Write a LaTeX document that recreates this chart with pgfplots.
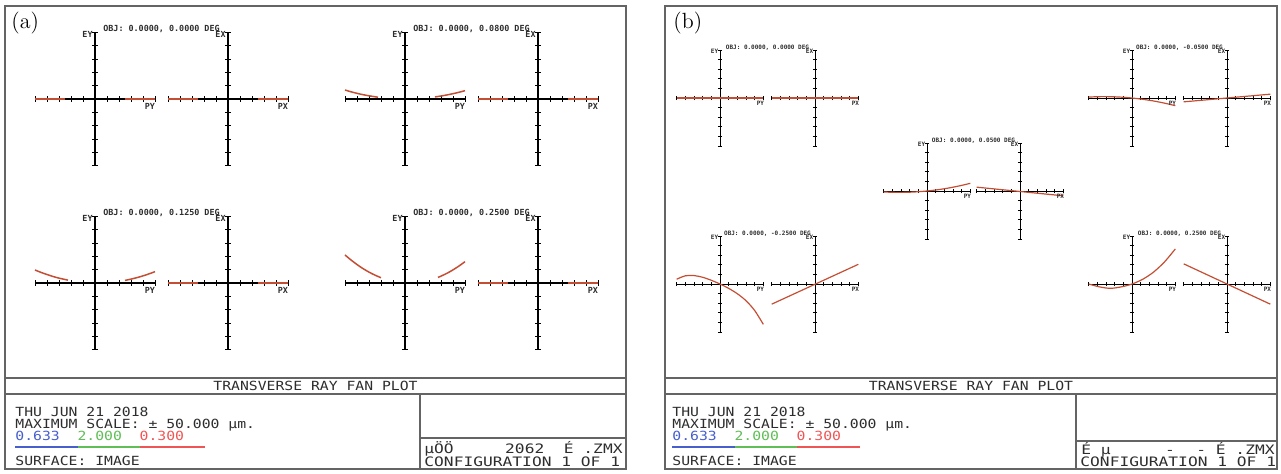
\documentclass[border=0pt]{standalone}
\usepackage{fontspec}
\usepackage{pgfplots}
\pgfplotsset{compat=1.18}
\newfontfamily\zm{DejaVu Sans Mono}
\newfontfamily\zmw{DejaVu Sans Mono}[FakeStretch=1.17]
\newfontfamily\zmr{DejaVu Sans Mono}[FakeStretch=1.25]
\definecolor{ray}{RGB}{196,78,52}
\definecolor{fr}{RGB}{100,100,100}
\definecolor{zblue}{RGB}{70,95,205}
\definecolor{zgreen}{RGB}{95,190,85}
\definecolor{zred}{RGB}{240,85,85}
\definecolor{ztxt}{RGB}{45,45,45}

\pgfplotsset{
  fanbase/.style={scale only axis, axis lines=center,
    xmin=-1,xmax=1,ymin=-1,ymax=1,
    xtick={-1,-0.8,-0.6,-0.4,-0.2,0,0.2,0.4,0.6,0.8,1},
    ytick={-1,-0.8,-0.6,-0.4,-0.2,0,0.2,0.4,0.6,0.8,1},
    xticklabels={}, yticklabels={},
    tick align=center, tick style={black,line width=0.45pt},
    anchor=origin, clip=false},
  fana/.style={fanbase, width=60pt, height=66.7pt, major tick length=2.8pt,
    axis line style={-,black,line width=0.55pt}},
  fanb/.style={fanbase, width=43.3pt, height=48pt, major tick length=2.1pt,
    axis line style={-,black,line width=0.45pt}},
  rayA/.style={color=ray, line width=0.75pt, no marks, smooth},
  rayB/.style={color=ray, line width=0.6pt, no marks, smooth},
}
\tikzset{
  laba/.style={font={\zm\bfseries\fontsize{4.2pt}{5pt}\selectfont}, inner sep=0.4pt, text=ztxt},
  labb/.style={font={\zm\bfseries\fontsize{3pt}{3.6pt}\selectfont}, inner sep=0.3pt, text=ztxt},
  tx/.style={font={\zmw\fontsize{6.3pt}{7pt}\selectfont}, inner sep=0pt, text=ztxt},
  txr/.style={font={\zmr\fontsize{6.5pt}{7pt}\selectfont}, inner sep=0pt, text=ztxt},
}
\newcommand{\fanA}[4]{%
  \begin{axis}[fana, at={(#1)}]
    #4
    \node[laba, anchor=east] at (axis cs:-0.02,0.97) {#2};
    \node[laba, anchor=north east] at (axis cs:1.02,-0.05) {#3};
  \end{axis}}
\newcommand{\fanB}[4]{%
  \begin{axis}[fanb, at={(#1)}]
    #4
    \node[labb, anchor=east] at (axis cs:-0.02,0.97) {#2};
    \node[labb, anchor=north east] at (axis cs:1.04,-0.05) {#3};
  \end{axis}}

\begin{document}
\begin{tikzpicture}[x=0.5pt,y=0.5pt]
\useasboundingbox (0,0) rectangle (1281,473);
% anchor coordinates (pixels, y from bottom)
\coordinate (A1) at (95,374);  \coordinate (A2) at (228,374);
\coordinate (A3) at (405,374); \coordinate (A4) at (538,374);
\coordinate (A5) at (95,190);  \coordinate (A6) at (228,190);
\coordinate (A7) at (405,190); \coordinate (A8) at (538,190);
\coordinate (B1) at (720,375);  \coordinate (B2) at (815,375);
\coordinate (B3) at (1132,375); \coordinate (B4) at (1227,375);
\coordinate (M1) at (927,282);  \coordinate (M2) at (1020,282);
\coordinate (B5) at (720,189);  \coordinate (B6) at (815,189);
\coordinate (B7) at (1132,189); \coordinate (B8) at (1227,189);

% ---------------- panel (a) frame and text ----------------
\draw[fr, line width=0.7pt] (5,4) rectangle (626,467);
\draw[fr, line width=0.6pt] (5,95) -- (626,95) (5,79) -- (626,79) (420,79) -- (420,4) (420,35) -- (626,35);
\node[anchor=base west, inner sep=0pt, font=\fontsize{11pt}{12pt}\selectfont] at (11,445) {(a)};
\node[tx] at (315.5,87) {TRANSVERSE RAY FAN PLOT};
\node[tx, anchor=base west] at (15,57) {THU JUN 21 2018};
\node[tx, anchor=base west] at (15,45) {MAXIMUM SCALE:\ ±\ 50.000\ µm.};
\node[tx, anchor=base west] at (15,33) {\textcolor{zblue}{0.633}\ \ \textcolor{zgreen}{2.000}\ \ \textcolor{zred}{0.300}};
\draw[zblue, line width=0.8pt] (15,26) -- (78,26);
\draw[zgreen, line width=0.8pt] (78,26) -- (140,26);
\draw[zred, line width=0.8pt] (140,26) -- (205,26);
\node[tx, anchor=base west] at (15,8) {SURFACE:\ IMAGE};
\node[txr, anchor=base west] at (424,20) {µÖÖ};
\node[txr, anchor=base east] at (623,20) {2062\ \ É\ .ZMX};
\node[txr, anchor=base west] at (424,7) {CONFIGURATION\ 1\ OF\ 1};

% titles (a)
\node[laba, anchor=base] at (161.5,442) {OBJ:\ 0.0000,\ 0.0000\ DEG};
\node[laba, anchor=base] at (471.5,442) {OBJ:\ 0.0000,\ 0.0800\ DEG};
\node[laba, anchor=base] at (161.5,258) {OBJ:\ 0.0000,\ 0.1250\ DEG};
\node[laba, anchor=base] at (471.5,258) {OBJ:\ 0.0000,\ 0.2500\ DEG};

% fans (a)
\fanA{A1}{EY}{PY}{%
  \addplot[rayA] coordinates {(-1,0)(-0.5,0)};
  \addplot[rayA] coordinates {(0.5,0)(1,0)};}
\fanA{A2}{EX}{PX}{%
  \addplot[rayA] coordinates {(-1,0)(-0.5,0)};
  \addplot[rayA] coordinates {(0.5,0)(1,0)};}
\fanA{A3}{EY}{PY}{%
  \addplot[rayA] coordinates {(-1,0.135)(-0.9,0.108)(-0.8,0.085)(-0.7,0.065)(-0.6,0.048)(-0.45,0.027)};
  \addplot[rayA] coordinates {(0.5,0.031)(0.6,0.045)(0.7,0.061)(0.8,0.08)(0.9,0.101)(1,0.125)};}
\fanA{A4}{EX}{PX}{%
  \addplot[rayA] coordinates {(-1,0)(-0.5,0)};
  \addplot[rayA] coordinates {(0.5,0)(1,0)};}
\fanA{A5}{EY}{PY}{%
  \addplot[rayA] coordinates {(-1,0.195)(-0.9,0.159)(-0.8,0.127)(-0.7,0.098)(-0.6,0.073)(-0.45,0.043)};
  \addplot[rayA] coordinates {(0.5,0.039)(0.6,0.058)(0.7,0.081)(0.8,0.107)(0.9,0.137)(1,0.17)};}
\fanA{A6}{EX}{PX}{%
  \addplot[rayA] coordinates {(-1,0)(-0.5,0)};
  \addplot[rayA] coordinates {(0.5,0)(1,0)};}
\fanA{A7}{EY}{PY}{%
  \addplot[rayA] coordinates {(-1,0.42)(-0.9,0.345)(-0.8,0.277)(-0.7,0.216)(-0.6,0.163)(-0.5,0.118)(-0.4,0.079)};
  \addplot[rayA] coordinates {(0.55,0.084)(0.6,0.103)(0.7,0.146)(0.8,0.197)(0.9,0.255)(1,0.32)};}
\fanA{A8}{EX}{PX}{%
  \addplot[rayA] coordinates {(-1,0)(-0.5,0)};
  \addplot[rayA] coordinates {(0.5,0)(1,0)};}

% ---------------- panel (b) frame and text ----------------
\draw[fr, line width=0.7pt] (665,4) rectangle (1277,467);
\draw[fr, line width=0.6pt] (665,95) -- (1277,95) (665,79) -- (1277,79) (1076,79) -- (1076,4) (1076,32) -- (1277,32);
\node[anchor=base west, inner sep=0pt, font=\fontsize{11pt}{12pt}\selectfont] at (673,445) {(b)};
\node[tx] at (971,87) {TRANSVERSE RAY FAN PLOT};
\node[tx, anchor=base west] at (672,57) {THU JUN 21 2018};
\node[tx, anchor=base west] at (672,45) {MAXIMUM SCALE:\ ±\ 50.000\ µm.};
\node[tx, anchor=base west] at (672,33) {\textcolor{zblue}{0.633}\ \ \textcolor{zgreen}{2.000}\ \ \textcolor{zred}{0.300}};
\draw[zblue, line width=0.8pt] (672,26) -- (735,26);
\draw[zgreen, line width=0.8pt] (735,26) -- (797,26);
\draw[zred, line width=0.8pt] (797,26) -- (860,26);
\node[tx, anchor=base west] at (672,8) {SURFACE:\ IMAGE};
\node[txr, anchor=base west] at (1081,19) {É\ µ};
\node[txr, anchor=base] at (1170,19) {-};
\node[txr, anchor=base east] at (1275,19) {-\ É\ .ZMX};
\node[txr, anchor=base west] at (1080,7) {CONFIGURATION\ 1\ OF\ 1};

% titles (b)
\node[labb, anchor=base] at (767.5,424) {OBJ:\ 0.0000,\ 0.0000\ DEG};
\node[labb, anchor=base] at (1179.5,424) {OBJ:\ 0.0000,\ -0.0500\ DEG};
\node[labb, anchor=base] at (973.5,331) {OBJ:\ 0.0000,\ 0.0500\ DEG};
\node[labb, anchor=base] at (767.5,238) {OBJ:\ 0.0000,\ -0.2500\ DEG};
\node[labb, anchor=base] at (1179.5,238) {OBJ:\ 0.0000,\ 0.2500\ DEG};

% fans (b)
\fanB{B1}{EY}{PY}{\addplot[rayB] coordinates {(-1,0)(1,0)};}
\fanB{B2}{EX}{PX}{\addplot[rayB] coordinates {(-1,0)(1,0)};}
\fanB{B3}{EY}{PY}{%
  \addplot[rayB] coordinates {(-1,0.02)(-0.75,0.028)(-0.5,0.0275)(-0.25,0.018)(0,0)(0.25,-0.027)(0.5,-0.0625)(0.75,-0.107)(1,-0.16)};}
\fanB{B4}{EX}{PX}{\addplot[rayB] coordinates {(-1,-0.08)(1,0.08)};}
\fanB{M1}{EY}{PY}{%
  \addplot[rayB] coordinates {(-1,-0.02)(-0.75,-0.028)(-0.5,-0.0275)(-0.25,-0.018)(0,0)(0.25,0.027)(0.5,0.0625)(0.75,0.107)(1,0.16)};}
\fanB{M2}{EX}{PX}{\addplot[rayB] coordinates {(-1,0.08)(1,-0.1)};}
\fanB{B5}{EY}{PY}{%
  \addplot[rayB] coordinates {(-1,0.10)(-0.8,0.171)(-0.6,0.176)(-0.4,0.140)(-0.2,0.077)(0,0)(0.2,-0.091)(0.4,-0.202)(0.6,-0.348)(0.8,-0.551)(1,-0.84)};}
\fanB{B6}{EX}{PX}{\addplot[rayB] coordinates {(-1,-0.42)(1,0.41)};}
\fanB{B7}{EY}{PY}{%
  \addplot[rayB] coordinates {(-1,0)(-0.75,-0.06)(-0.5,-0.09)(-0.25,-0.06)(0,0)(0.25,0.1)(0.5,0.25)(0.75,0.46)(1,0.73)};}
\fanB{B8}{EX}{PX}{\addplot[rayB] coordinates {(-1,0.42)(1,-0.42)};}
\end{tikzpicture}
\end{document}
